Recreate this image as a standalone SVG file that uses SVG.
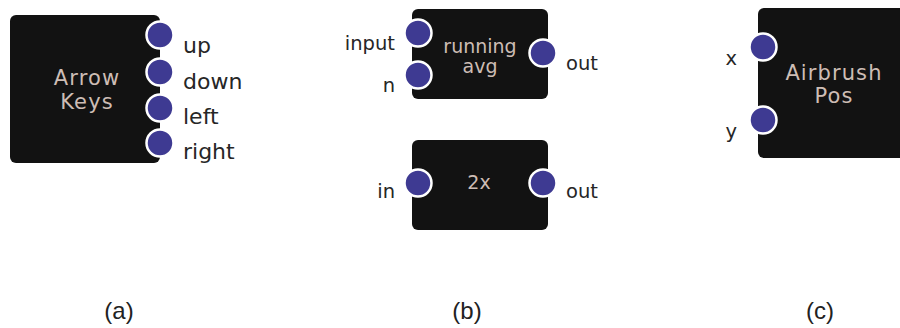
<svg xmlns="http://www.w3.org/2000/svg" width="900" height="328" viewBox="0 0 900 328">
<style>
.box{fill:#121212;}
.port{fill:#3e3a92;stroke:#ffffff;stroke-width:2.5;}
.inner{font-family:"DejaVu Sans",Verdana,sans-serif;fill:#cdbdb5;text-anchor:middle;}
.big{font-size:21px;letter-spacing:1.1px;}
.lbl{font-family:"DejaVu Sans",Verdana,sans-serif;font-size:19.5px;fill:#262626;}
.lbla{font-size:22px;}
.cap{font-family:"Liberation Sans",Arial,sans-serif;font-size:24px;fill:#222;text-anchor:middle;}
</style>
<rect width="900" height="328" fill="#ffffff"/>
<g id="connectors"/>
<g id="arrow-keys">
<rect class="box" x="10" y="15" width="150" height="148" rx="6"/>
<text class="inner big" x="87" y="85">Arrow</text>
<text class="inner big" x="87" y="109">Keys</text>
<circle class="port" cx="160" cy="35" r="13.5"/>
<circle class="port" cx="160" cy="72" r="13.5"/>
<circle class="port" cx="160" cy="108" r="13.5"/>
<circle class="port" cx="160" cy="143" r="13.5"/>
<text class="lbl lbla" x="183" y="53">up</text>
<text class="lbl lbla" x="183" y="89">down</text>
<text class="lbl lbla" x="183" y="124">left</text>
<text class="lbl lbla" x="183" y="159">right</text>
</g>
<g id="running-avg">
<rect class="box" x="412" y="9" width="136" height="90" rx="6"/>
<text class="inner" font-size="19" x="480" y="53">running</text>
<text class="inner" font-size="19" x="480" y="73">avg</text>
<circle class="port" cx="418" cy="33" r="13.5"/>
<circle class="port" cx="418" cy="75" r="13.5"/>
<circle class="port" cx="543" cy="53" r="13.5"/>
<text class="lbl" x="395" y="50" text-anchor="end">input</text>
<text class="lbl" x="395" y="92" text-anchor="end">n</text>
<text class="lbl" x="566" y="70">out</text>
</g>
<g id="double">
<rect class="box" x="412" y="140" width="136" height="90" rx="6"/>
<text class="inner" font-size="19" x="479" y="189">2x</text>
<circle class="port" cx="418" cy="183" r="13.5"/>
<circle class="port" cx="543" cy="183" r="13.5"/>
<text class="lbl" x="395" y="198" text-anchor="end">in</text>
<text class="lbl" x="566" y="198">out</text>
</g>
<g id="airbrush-pos">
<rect class="box" x="758" y="8" width="150" height="150" rx="6"/>
<text class="inner big" x="834" y="80">Airbrush</text>
<text class="inner big" x="834" y="103">Pos</text>
<circle class="port" cx="763" cy="47" r="13.5"/>
<circle class="port" cx="763" cy="120" r="13.5"/>
<text class="lbl" x="737" y="65" text-anchor="end">x</text>
<text class="lbl" x="737" y="138" text-anchor="end">y</text>
</g>
<g id="captions">
<text class="cap" x="119" y="319">(a)</text>
<text class="cap" x="467" y="319">(b)</text>
<text class="cap" x="820" y="319">(c)</text>
</g>
</svg>
